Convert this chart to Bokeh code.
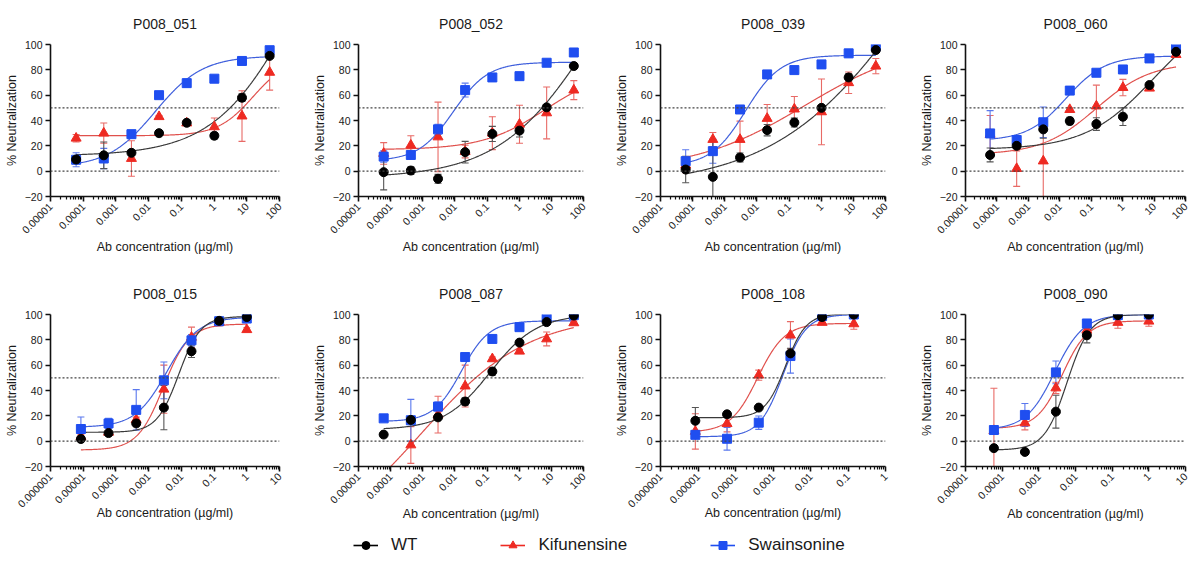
import math
import numpy as np
from bokeh.plotting import figure
from bokeh.layouts import column, row
from bokeh.models import (ColumnDataSource, Whisker, TeeHead, Span, FixedTicker,
                          CustomJSTickFormatter, Legend, LegendItem, Range1d)
from bokeh.embed import file_html
from bokeh.resources import INLINE

nan = float("nan")

# ---------------- data ----------------
titles = ["P008_051", "P008_052", "P008_039", "P008_060",
          "P008_015", "P008_087", "P008_108", "P008_090"]
series_names = ["WT", "Kifunensine", "Swainsonine"]

conc_50 = [0.0000607, 0.000425, 0.00298, 0.0208, 0.146, 1.02, 7.14, 50.0]
conc_1 = [0.0000085, 0.0000595, 0.000417, 0.00292, 0.0204, 0.143, 1.0]
conc_108 = [0.0000085, 0.0000595, 0.000417, 0.00292, 0.0204, 0.143]
conc_090 = [0.0000595, 0.000417, 0.00292, 0.0204, 0.143, 1.0]

# P008_051
wt_051 = [9.2, 12.5, 14.5, 30, 38.2, 28, 58, 91]
wt_051_err = [2, 10.5, 1.5, 1, 1.5, 2.5, 3, 1.5]
kif_051 = [26, 30, 10, 43, 38, 35, 43.5, 78]
kif_051_err = [3, 8, 14, 1, 1, 7, 20, 14]
swa_051 = [9, 10, 29.2, 60, 69.5, 73, 87, 95.5]
swa_051_err = [5.5, 8, 3, 1, 3, 1, 1, 1.5]
# P008_052
wt_052 = [-0.8, 0.5, -6, 15, 29.4, 32, 50.4, 83]
wt_052_err = [14, 3, 3.5, 8.5, 6, 5, 2, 1.5]
kif_052 = [14, 20.5, 27, 15.5, 30, 37, 46, 64]
kif_052_err = [8.5, 7.5, 27.5, 5, 13, 15, 20.5, 7.5]
swa_052 = [11.5, 12.8, 33, 64, 74, 75, 85.6, 93.7]
swa_052_err = [4.5, 1.5, 4, 5.5, 1.5, 3, 1, 1]
# P008_039
wt_039 = [1.3, -4.5, 10.8, 32.4, 38.4, 50, 74, 95.6]
wt_039_err = [10.5, 29, 3.5, 4.5, 3.5, 2, 3, 1.5]
kif_039 = [4.7, 25, 25, 41.6, 49, 46.8, 69.8, 82.9]
kif_039_err = [6, 5.5, 14.5, 11, 10, 26, 8.5, 6]
swa_039 = [7.9, 15.8, 48.7, 76.4, 79.8, 84.3, 93, 98.7]
swa_039_err = [9, 9.5, 3, 1, 1, 1, 3, 1]
# P008_060
wt_060 = [12.8, 20, 33, 39.6, 37.2, 43, 68, 94.2]
wt_060_err = [5.5, 2, 7, 3, 5, 7, 1.5, 1.5]
kif_060 = [29, 2, 8, 48.6, 51.4, 66, 65.5, 92]
kif_060_err = [15, 14, 32, 1.5, 16.5, 6.5, 1, 1]
swa_060 = [29.8, 24.6, 38.6, 63.6, 77.7, 80.3, 89, 97.4]
swa_060_err = [18, 1.5, 12, 1.5, 1, 1.5, 1, 1.5]
# P008_015
wt_015 = [1.7, 6.4, 14, 26.5, 71, 95, 98]
wt_015_err = [1, 1, 2, 17.5, 5, 1.5, 1]
kif_015 = [3.5, 7, 17, 41, 82, 94, 88]
kif_015_err = [1.5, 1, 2, 19, 8, 3, 1.5]
swa_015 = [9.6, 14, 24.7, 48, 79.6, 94.7, 96.8]
swa_015_err = [9.5, 4, 16, 14.5, 4.5, 1, 1]
# P008_087
wt_087 = [5.2, 16.8, 18.8, 31.3, 55, 77.8, 94, 99.2]
wt_087_err = [2, 1.5, 1.5, 3, 3, 1.5, 1, 1]
kif_087 = [nan, -3, 21, 43.5, 65, 71, 80.7, 93.4]
kif_087_err = [nan, 14.5, 14.5, 16.5, 1.5, 1.5, 5.5, 1.5]
swa_087 = [18, 16.5, 27.3, 66.4, 80.7, 90, 97.4, 99.5]
swa_087_err = [1, 16.5, 3.5, 1, 1, 1, 1, 1]
# P008_108
wt_108 = [16.1, 21.2, 26.5, 69.3, 98, 100]
wt_108_err = [10.5, 1, 1, 4, 1, 1]
kif_108 = [7.7, 13.8, 52.1, 83.7, 93.7, 92.6]
kif_108_err = [14, 6.5, 4, 10.7, 1.5, 4.3]
swa_108 = [5, 1.9, 14.6, 67.2, 98.8, 100]
swa_108_err = [2, 9, 5.3, 13.5, 1, 1]
# P008_090
wt_090 = [-5.5, -8.5, 23.3, 83.6, 99.5, 100]
wt_090_err = [1, 1, 13, 6, 1, 1]
kif_090 = [8.3, 14.4, 42, 87.6, 93.7, 94.7]
kif_090_err = [33.5, 5.5, 4.5, 1.5, 4.5, 4]
swa_090 = [8.8, 20.7, 54.3, 92.9, 99.5, 100]
swa_090_err = [1, 9, 9, 1.5, 1, 1]

# fitted 4PL parameters: (bottom, top, logEC50, hill)
fit_wt = [(12, 242, 2.5, 0.35), (-5.5, 216.7, 2.3, 0.3), (-12.6, 290.4, 3.0, 0.2),
          (17, 130, 1.0, 0.4), (7, 98.5, -2.08, 1.3), (9, 100, -0.9, 0.6),
          (18.5, 100.5, -2.664, 1.59), (-7, 100, -2.23, 1.4)]
fit_kif = [(28, 90, 1.2, 0.8), (17, 80, 0.8, 0.45), (0, 103.9, -0.5, 0.25),
           (13, 86, -0.84, 0.5), (-7, 92.5, -2.55, 1.1), (-88, 100, -3.05, 0.26),
           (7, 93, -3.41, 1.2), (10, 95, -2.36, 1.26)]
fit_swa = [(3, 91, -1.8, 0.6), (8, 86, -2.05, 0.8), (4, 91.5, -2.35, 0.8),
           (24, 91, -1.8, 0.7), (11, 98, -2.45, 0.9), (15.5, 95, -1.8, 1.0),
           (3.5, 100, -2.74, 1.39), (9, 100, -2.565, 1.1)]

ticks_a = [0.00001, 0.0001, 0.001, 0.01, 0.1, 1, 10, 100]
labels_a = ["0.00001", "0.0001", "0.001", "0.01", "0.1", "1", "10", "100"]
ticks_b = [0.000001, 0.00001, 0.0001, 0.001, 0.01, 0.1, 1, 10]
labels_b = ["0.000001", "0.00001", "0.0001", "0.001", "0.01", "0.1", "1", "10"]
ticks_c = [0.000001, 0.00001, 0.0001, 0.001, 0.01, 0.1, 1]
labels_c = ["0.000001", "0.00001", "0.0001", "0.001", "0.01", "0.1", "1"]
ticks_d = [0.00001, 0.0001, 0.001, 0.01, 0.1, 1, 10]
labels_d = ["0.00001", "0.0001", "0.001", "0.01", "0.1", "1", "10"]

y_ticks = [-20, 0, 20, 40, 60, 80, 100]
ref_lines = [0, 50]
y_min, y_max = -20, 100

panels = [
    (conc_50, [wt_051, kif_051, swa_051], [wt_051_err, kif_051_err, swa_051_err], ticks_a, labels_a, (1e-5, 100)),
    (conc_50, [wt_052, kif_052, swa_052], [wt_052_err, kif_052_err, swa_052_err], ticks_a, labels_a, (1e-5, 100)),
    (conc_50, [wt_039, kif_039, swa_039], [wt_039_err, kif_039_err, swa_039_err], ticks_a, labels_a, (1e-5, 100)),
    (conc_50, [wt_060, kif_060, swa_060], [wt_060_err, kif_060_err, swa_060_err], ticks_a, labels_a, (1e-5, 100)),
    (conc_1, [wt_015, kif_015, swa_015], [wt_015_err, kif_015_err, swa_015_err], ticks_b, labels_b, (1e-6, 10)),
    (conc_50, [wt_087, kif_087, swa_087], [wt_087_err, kif_087_err, swa_087_err], ticks_a, labels_a, (1e-5, 100)),
    (conc_108, [wt_108, kif_108, swa_108], [wt_108_err, kif_108_err, swa_108_err], ticks_c, labels_c, (1e-6, 1)),
    (conc_090, [wt_090, kif_090, swa_090], [wt_090_err, kif_090_err, swa_090_err], ticks_d, labels_d, (1e-5, 10)),
]
fits = [fit_wt, fit_kif, fit_swa]

# ---------------- style ----------------
FONT = "Liberation Sans"
TXT = "#1a1a1a"
marker_colors = ["#000000", "#ee2a22", "#1f4ef0"]
curve_colors = ["#3a3a3a", "#e0504c", "#3f5fdc"]
bar_colors = ["#555555", "#e86a66", "#5a78ee"]
markers = ["circle", "triangle", "square"]
marker_sizes = [9, 10, 9]
draw_order = [1, 2, 0]

col_widths = [309, 302, 305, 276]
col_left = [50, 45, 45, 45]
col_right = [30, 28, 31, 7]
row_heights = [270, 260]
row_top = [44, 44]
row_bottom = [74, 64]
title_standoff = [26, 26]


def four_pl(x, b, t, logc, h):
    return b + (t - b) / (1.0 + 10 ** ((logc - np.log10(x)) * h))


def make_panel(k):
    conc, ys, errs, ticks, labels, xr = panels[k]
    r, c = divmod(k, 4)
    p = figure(width=col_widths[c], height=row_heights[r], x_axis_type="log",
               x_range=Range1d(*xr), y_range=Range1d(y_min, y_max),
               toolbar_location=None, output_backend="svg",
               min_border_left=col_left[c], min_border_right=col_right[c],
               min_border_top=row_top[r], min_border_bottom=row_bottom[r])
    p.outline_line_color = None
    p.grid.visible = False
    p.background_fill_color = "white"
    p.border_fill_color = "white"

    p.title.text = titles[k]
    p.title.align = "center"
    p.title.text_font = FONT
    p.title.text_font_size = "14px"
    p.title.text_font_style = "normal"
    p.title.text_color = TXT
    p.title.standoff = title_standoff[r]

    # axes
    lo, hi = math.floor(math.log10(xr[0])), math.ceil(math.log10(xr[1]))
    minor = [m * 10.0 ** e for e in range(lo, hi) for m in range(2, 10)]
    p.xaxis.ticker = FixedTicker(ticks=ticks, minor_ticks=minor)
    p.xaxis.formatter = CustomJSTickFormatter(args=dict(tvals=ticks, tlabels=labels), code="""
        for (let i = 0; i < tvals.length; i++) {
            if (Math.abs(Math.log10(tvals[i]) - Math.log10(tick)) < 1e-6) return tlabels[i];
        }
        return "";
    """)
    p.xaxis.major_label_orientation = math.pi / 4
    p.xaxis.axis_label = "Ab concentration (µg/ml)"
    p.yaxis.ticker = FixedTicker(ticks=y_ticks)
    p.yaxis.axis_label = "% Neutralization"
    for ax in (p.xaxis[0], p.yaxis[0]):
        ax.axis_line_width = 1.6
        ax.axis_line_color = "#111111"
        ax.major_tick_line_width = 1.6
        ax.major_tick_line_color = "#111111"
        ax.major_tick_out = 5
        ax.major_tick_in = 0
        ax.major_label_text_font = FONT
        ax.major_label_text_font_size = "10.5px"
        ax.major_label_text_color = TXT
        ax.major_label_standoff = 3
        ax.axis_label_text_font = FONT
        ax.axis_label_text_font_size = "12.5px"
        ax.axis_label_text_font_style = "normal"
        ax.axis_label_text_color = TXT
        ax.axis_label_standoff = 3
    p.xaxis.minor_tick_line_width = 1.2
    p.xaxis.minor_tick_line_color = "#111111"
    p.xaxis.minor_tick_out = 3
    p.xaxis.minor_tick_in = 0
    longest = max(len(s) for s in labels)
    if r == 0:
        p.xaxis.axis_label_standoff = 0
    else:
        p.xaxis.axis_label_standoff = -8 if longest > 7 else -3
    p.yaxis.minor_tick_line_color = None

    for yv in ref_lines:
        p.add_layout(Span(location=yv, dimension="width", line_color="#444444",
                          line_width=1.1, line_dash="2 2"))

    # fitted curves
    xs = np.logspace(math.log10(min(conc)), math.log10(max(conc)), 300)
    for s in draw_order:
        b, t, lc, h = fits[s][k]
        p.line(xs, four_pl(xs, b, t, lc, h), line_color=curve_colors[s], line_width=1.2)

    # error bars + points
    for s in draw_order:
        pts = [(x, y, e) for x, y, e in zip(conc, ys[s], errs[s]) if not math.isnan(y)]
        src = ColumnDataSource(dict(x=[q[0] for q in pts], y=[q[1] for q in pts],
                                    upper=[q[1] + q[2] for q in pts],
                                    lower=[q[1] - q[2] for q in pts]))
        p.add_layout(Whisker(source=src, base="x", upper="upper", lower="lower",
                             line_color=bar_colors[s], line_width=1.1,
                             upper_head=TeeHead(size=7, line_color=bar_colors[s], line_width=1.1),
                             lower_head=TeeHead(size=7, line_color=bar_colors[s], line_width=1.1)))
    for s in draw_order:
        pts = [(x, y) for x, y in zip(conc, ys[s]) if not math.isnan(y)]
        p.scatter([q[0] for q in pts], [q[1] for q in pts], marker=markers[s],
                  size=marker_sizes[s], fill_color=marker_colors[s],
                  line_color=marker_colors[s])
    return p


figs = [make_panel(k) for k in range(8)]

# legend strip (proxy renderers hold no visible data)
lg = figure(width=1192, height=33, toolbar_location=None, output_backend="svg",
            x_range=(0, 1), y_range=(0, 1), min_border=0,
            x_axis_location=None, y_axis_location=None)
lg.outline_line_color = None
lg.grid.visible = False
items = []
for s in range(3):
    rl = lg.line([nan], [nan], line_color=marker_colors[s], line_width=1.6)
    rs = lg.scatter([nan], [nan], marker=markers[s], size=marker_sizes[s],
                    fill_color=marker_colors[s], line_color=marker_colors[s])
    items.append(LegendItem(label=series_names[s], renderers=[rl, rs]))
legend = Legend(items=items, orientation="horizontal", location=(353, 8),
                glyph_width=25, glyph_height=20, label_height=20, label_standoff=13,
                spacing=83, padding=0, margin=0, border_line_color=None,
                background_fill_alpha=0, label_text_font=FONT,
                label_text_font_size="17px", label_text_color=TXT)
lg.add_layout(legend)

layout = column(row(*figs[:4]), row(*figs[4:]), lg)
open("out.html", "w").write(file_html(layout, INLINE))
